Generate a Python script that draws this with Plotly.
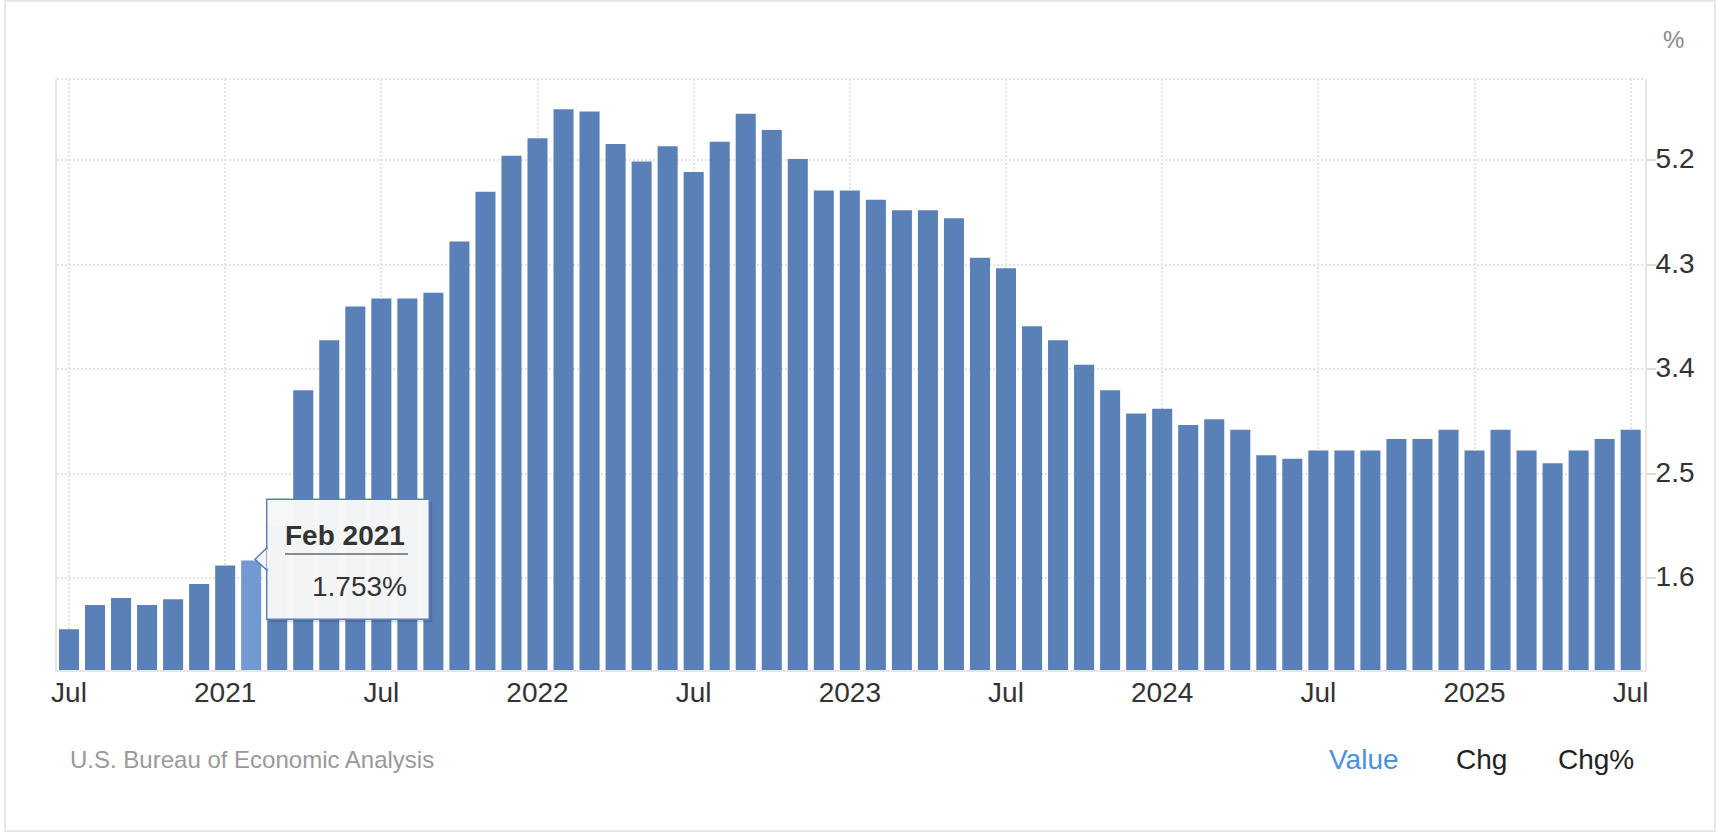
import plotly.graph_objects as go

# ---------------- data ----------------
all_months = [f"{y}-{m:02d}" for y in range(2020, 2026) for m in range(1, 13)]
months = all_months[all_months.index("2020-07"):all_months.index("2025-07") + 1]

values = [
    # 2020 Jul-Dec
    1.16, 1.37, 1.43, 1.37, 1.42, 1.55,
    # 2021
    1.71, 1.753, 2.05, 3.22, 3.65, 3.94, 4.01, 4.01, 4.06, 4.50, 4.93, 5.24,
    # 2022
    5.39, 5.64, 5.62, 5.34, 5.19, 5.32, 5.10, 5.36, 5.60, 5.46, 5.21, 4.94,
    # 2023
    4.94, 4.86, 4.77, 4.77, 4.70, 4.36, 4.27, 3.77, 3.65, 3.44, 3.22, 3.02,
    # 2024
    3.06, 2.92, 2.97, 2.88, 2.66, 2.63, 2.70, 2.70, 2.70, 2.80, 2.80, 2.88,
    # 2025 Jan-Jul
    2.70, 2.88, 2.70, 2.59, 2.70, 2.80, 2.88,
]

tick_vals = ["2020-07", "2021-01", "2021-07", "2022-01", "2022-07", "2023-01",
             "2023-07", "2024-01", "2024-07", "2025-01", "2025-07"]
tick_text = ["Jul", "2021", "Jul", "2022", "Jul", "2023", "Jul", "2024", "Jul", "2025", "Jul"]
y_ticks = [1.6, 2.5, 3.4, 4.3, 5.2]
y_tick_text = ["1.6", "2.5", "3.4", "4.3", "5.2"]

highlight = "2021-02"
tooltip_title = "Feb 2021"
tooltip_value = "1.753%"
source_text = "U.S. Bureau of Economic Analysis"
unit_text = "%"
buttons = ["Value", "Chg", "Chg%"]

# ---------------- style ----------------
W, H = 1720, 838
FONT = "Liberation Sans, Arial, Helvetica, sans-serif"
BAR = "#5a80b8"
BAR_HI = "#7299d0"
GRID = "#e2e2e2"
AXIS = "#e6e6e6"

def xp(px):
    return px / W

def yp(py):
    return 1 - py / H

PL, PR, PT, PB = 57, 1645, 79, 670

colors = [BAR_HI if m == highlight else BAR for m in months]

fig = go.Figure(go.Bar(
    x=months, y=values,
    marker=dict(color=colors, line=dict(width=0)),
    hoverinfo="skip",
))

fig.update_layout(
    width=W, height=H,
    margin=dict(l=0, r=0, t=0, b=0),
    paper_bgcolor="white", plot_bgcolor="white",
    bargap=0.23, showlegend=False,
    font=dict(family=FONT, color="#333"),
    xaxis=dict(
        type="category", domain=[xp(PL), xp(PR)], range=[-0.461, 60.55],
        tickmode="array", tickvals=tick_vals, ticktext=tick_text,
        showgrid=True, gridcolor=GRID, gridwidth=2, griddash="2px,2px",
        showline=True, linecolor=AXIS, linewidth=2,
        ticks="", tickfont=dict(size=28, color="#333", family=FONT),
        ticklabelstandoff=-4,
        zeroline=False, automargin=False, fixedrange=True,
    ),
    yaxis=dict(
        side="right", domain=[yp(PB), yp(PT)], range=[0.81, 5.90],
        tickmode="array", tickvals=y_ticks, ticktext=y_tick_text,
        showgrid=True, gridcolor=GRID, gridwidth=2, griddash="2px,2px",
        showline=True, mirror=True, linecolor=AXIS, linewidth=2,
        ticks="outside", ticklen=9, tickwidth=2, tickcolor="#dcdcdc",
        tickfont=dict(size=28, color="#333", family=FONT),
        ticklabelshift=-2, ticklabelstandoff=-6,
        zeroline=False, automargin=False, fixedrange=True,
    ),
)

shapes = []
# outer frame
shapes.append(dict(type="rect", xref="paper", yref="paper",
                   x0=xp(5), x1=xp(1715), y0=yp(831), y1=yp(1),
                   line=dict(color="#e8e8e8", width=2), fillcolor="rgba(0,0,0,0)",
                   layer="below"))
# top dotted border of plot area
shapes.append(dict(type="line", xref="paper", yref="paper",
                   x0=xp(PL), x1=xp(PR), y0=yp(PT), y1=yp(PT),
                   line=dict(color=GRID, width=2, dash="2px,2px")))

# tooltip
bx0, bx1, by0, by1 = 266.7, 429.3, 499.3, 619.3
shapes.append(dict(type="rect", xref="paper", yref="paper",
                   x0=xp(bx0 + 3), x1=xp(bx1 + 3), y0=yp(by1 + 3), y1=yp(by0 + 3),
                   line=dict(width=0), fillcolor="rgba(0,0,0,0.13)"))
shapes.append(dict(type="rect", xref="paper", yref="paper",
                   x0=xp(bx0), x1=xp(bx1), y0=yp(by1), y1=yp(by0),
                   line=dict(color=BAR, width=1.5), fillcolor="rgba(247,247,247,0.98)"))
tip = f"M {xp(bx0)},{yp(548)} L {xp(255)},{yp(559.3)} L {xp(bx0)},{yp(570)} Z"
shapes.append(dict(type="path", xref="paper", yref="paper", path=tip,
                   line=dict(color=BAR, width=1.5), fillcolor="rgba(247,247,247,1)"))
shapes.append(dict(type="line", xref="paper", yref="paper",
                   x0=xp(bx0 + 0.9), x1=xp(bx0 + 0.9), y0=yp(549.5), y1=yp(568.5),
                   line=dict(color="rgb(247,247,247)", width=2)))
shapes.append(dict(type="line", xref="paper", yref="paper",
                   x0=xp(285), x1=xp(408), y0=yp(554), y1=yp(554),
                   line=dict(color="#8c8c8c", width=2)))

annotations = [
    dict(text=f"<b>{tooltip_title}</b>", x=xp(345.3), y=yp(535), xref="paper", yref="paper",
         xanchor="center", yanchor="middle", showarrow=False,
         font=dict(size=28, color="#333", family=FONT)),
    dict(text=tooltip_value, x=xp(359.2), y=yp(586), xref="paper", yref="paper",
         xanchor="center", yanchor="middle", showarrow=False,
         font=dict(size=28, color="#333", family=FONT)),
    dict(text=unit_text, x=xp(1673), y=yp(40), xref="paper", yref="paper",
         xanchor="center", yanchor="middle", showarrow=False,
         font=dict(size=24, color="#888", family=FONT)),
    dict(text=source_text, x=xp(68), y=yp(759), xref="paper", yref="paper",
         xanchor="left", yanchor="middle", showarrow=False,
         font=dict(size=24, color="#999", family=FONT)),
]
btn_x = [1364, 1481, 1596]
btn_col = ["#4a90e2", "#222", "#222"]
for label, bxp, col in zip(buttons, btn_x, btn_col):
    annotations.append(dict(text=label, x=xp(bxp), y=yp(759), xref="paper", yref="paper",
                            xanchor="center", yanchor="middle", showarrow=False,
                            font=dict(size=28, color=col, family=FONT)))

fig.update_layout(shapes=shapes, annotations=annotations)
fig.write_html(
    "out.html",
    config={"displayModeBar": False},
    post_script="document.body.style.margin='0px';document.body.style.overflow='hidden';",
)
